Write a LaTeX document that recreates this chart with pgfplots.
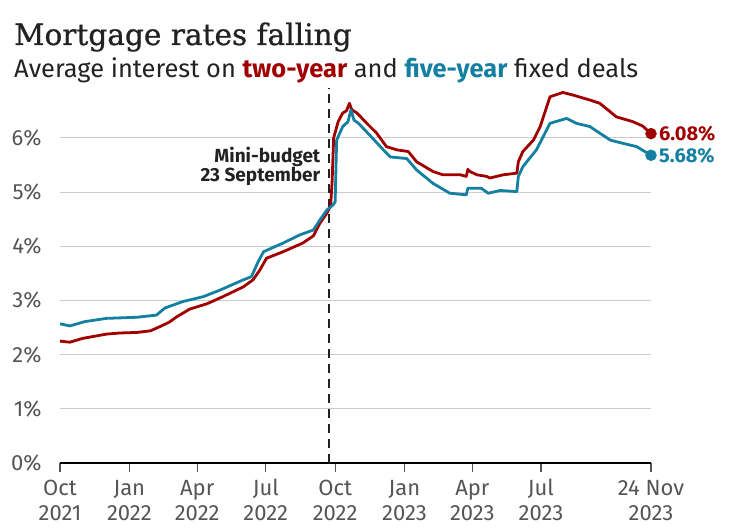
\documentclass[border=0pt]{standalone}
\usepackage{fontspec}
\setmainfont{Fira Sans}
\newfontfamily\titlefont[FakeBold=0.8]{DejaVu Serif}
\usepackage{pgfplots}
\pgfplotsset{compat=1.18}
\definecolor{twored}{HTML}{A00000}
\definecolor{fiveblue}{HTML}{1380A1}
\definecolor{gridgrey}{HTML}{CCCCCC}
\definecolor{ticktext}{HTML}{555555}
\definecolor{darktext}{HTML}{222222}
\begin{document}
\begin{tikzpicture}[x=1pt,y=1pt]
\useasboundingbox (0,0) rectangle (740,530);
\node[anchor=base west, inner sep=0, font=\titlefont\fontsize{29.6}{29.6}\selectfont, text=darktext] at (14,485) {Mortgage rates falling};
\node[anchor=base west, inner sep=0, font=\fontsize{25.4}{25.4}\selectfont, text=darktext] at (14,452) {Average interest on \textcolor{twored}{\bfseries two-year} and \textcolor{fiveblue}{\bfseries five-year} fixed deals};
\begin{axis}[
  at={(60pt,67pt)}, anchor=origin,
  scale only axis, width=591pt, height=373.8pt,
  xmin=0, xmax=784, ymin=0, ymax=6.9,
  clip=false,
  axis x line=bottom, axis y line=left,
  y axis line style={draw=none},
  x axis line style={-, line width=1.6pt, draw=black},
  xtick={0,92,182,273,365,457,547,638,784},
  xticklabels={{\strut Oct\\\strut 2021},{\strut Jan\\\strut 2022},{\strut Apr\\\strut 2022},{\strut Jul\\\strut 2022},{\strut Oct\\\strut 2022},{\strut Jan\\\strut 2023},{\strut Apr\\\strut 2023},{\strut Jul\\\strut 2023},{\strut 24 Nov\\\strut 2023}},
  xticklabel style={align=center, font=\fontsize{22}{25}\selectfont, text=ticktext, yshift=-4pt, inner sep=2pt},
  x tick style={line width=1.2pt, draw=ticktext},
  major tick length=9pt,
  tick align=outside,
  ytick={0,1,2,3,4,5,6},
  yticklabel={\pgfmathprintnumber{\tick}\%},
  yticklabel style={font=\fontsize{22}{22}\selectfont, text=ticktext, anchor=east, xshift=-6pt},
  y tick style={draw=none},
  /pgf/number format/assume math mode=true,
  ymajorgrids,
  grid style={gridgrey, line width=1pt},
]
\draw[darktext, line width=2.4pt, dash pattern=on 9pt off 6pt] (axis cs:357,0) -- (axis cs:357,6.93);
\node[anchor=east, align=right, font=\bfseries\fontsize{19}{19}\selectfont, text=darktext] at (axis cs:350,5.47) {Mini-budget\\23 September};
\addplot[twored, line width=2.8pt, line join=round] coordinates {
(0,2.25) (13,2.23) (30,2.30) (62,2.38) (80,2.40) (102,2.41) (120,2.44) (133,2.52) (145,2.60) (155,2.70)
(172,2.84) (195,2.94) (216,3.07) (243,3.25) (256,3.38) (265,3.56) (274,3.78) (296,3.90) (322,4.06) (336,4.19)
(345,4.43) (354,4.61) (359,4.75) (361,5.20) (363,6.00) (369,6.30) (375,6.46) (380,6.50) (384,6.64) (387,6.52)
(394,6.46) (407,6.27) (420,6.09) (433,5.84) (447,5.78) (462,5.75) (473,5.56) (495,5.38) (508,5.32) (531,5.32)
(539,5.29) (541,5.42) (544,5.38) (553,5.32) (566,5.29) (570,5.26) (588,5.32) (606,5.35) (608,5.56) (614,5.75)
(628,5.96) (637,6.21) (650,6.76) (667,6.84) (681,6.79) (703,6.70) (716,6.64) (738,6.39) (760,6.30) (773,6.22) (784,6.08)
};
\addplot[fiveblue, line width=2.8pt, line join=round] coordinates {
(0,2.57) (13,2.53) (33,2.61) (62,2.67) (102,2.69) (128,2.73) (139,2.86) (163,2.98) (190,3.07) (212,3.19)
(243,3.38) (254,3.44) (263,3.72) (270,3.90) (296,4.06) (318,4.21) (336,4.30) (345,4.49) (354,4.67) (362,4.76)
(365,4.82) (367,5.96) (375,6.21) (382,6.30) (386,6.52) (390,6.33) (396,6.27) (411,6.05) (429,5.78) (438,5.65)
(460,5.62) (473,5.41) (495,5.16) (517,4.98) (539,4.95) (541,5.07) (559,5.07) (568,4.98) (584,5.03) (606,5.01)
(608,5.29) (614,5.47) (632,5.78) (650,6.27) (672,6.36) (685,6.27) (703,6.21) (730,5.96) (747,5.90) (765,5.84) (784,5.68)
};
\addplot[only marks, mark=*, mark size=5.5pt, twored] coordinates {(784,6.08)};
\addplot[only marks, mark=*, mark size=5.5pt, fiveblue] coordinates {(784,5.68)};
\node[anchor=west, font=\bfseries\fontsize{20}{20}\selectfont, text=twored, inner sep=0] at (axis cs:784,6.08) {\hspace{8pt}6.08\%};
\node[anchor=west, font=\bfseries\fontsize{20}{20}\selectfont, text=fiveblue, inner sep=0] at (axis cs:784,5.68) {\hspace{8pt}5.68\%};
\end{axis}
\end{tikzpicture}
\end{document}
